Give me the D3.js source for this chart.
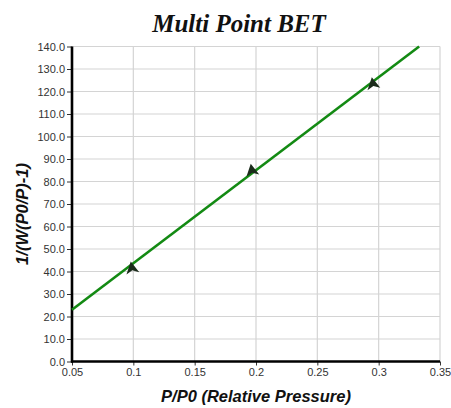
<!DOCTYPE html>
<html>
<head>
<meta charset="utf-8">
<script src="https://cdn.jsdelivr.net/npm/d3@7"></script>
<style>
  html, body { margin: 0; padding: 0; background: #fff; }
  svg { display: block; }
</style>
</head>
<body>
<svg id="chart" width="451" height="408"></svg>
<script>
// Measured BET points: relative pressure and 1/(W(P0/P)-1)
const relPressure = [0.0989, 0.1967, 0.2954];
const betValues = [41.4, 84.8, 123.3];

// Least-squares fit line endpoints (x range of drawn fit)
const fitRange = [0.05, 0.333];
const fitValues = [23.0, 140.0];

const xTicks = [0.05, 0.1, 0.15, 0.2, 0.25, 0.3, 0.35];
const xTickLabels = ["0.05", "0.1", "0.15", "0.2", "0.25", "0.3", "0.35"];
const yTicks = [0, 10, 20, 30, 40, 50, 60, 70, 80, 90, 100, 110, 120, 130, 140];

const svg = d3.select("#chart");
const margin = { left: 72, right: 11, top: 46.5, bottom: 46.5 };
const W = 451, H = 408;

const x = d3.scaleLinear().domain([0.05, 0.35]).range([margin.left, W - margin.right]);
const y = d3.scaleLinear().domain([0, 140]).range([H - margin.bottom, margin.top]);

// Grid
const grid = svg.append("g").attr("stroke", "#d4d4d4").attr("stroke-width", 1.2);
grid.selectAll("line.v").data(xTicks).join("line")
  .attr("x1", d => x(d)).attr("x2", d => x(d))
  .attr("y1", y(0)).attr("y2", y(140));
grid.selectAll("line.h").data(yTicks).join("line")
  .attr("x1", x(0.05)).attr("x2", x(0.35))
  .attr("y1", d => y(d)).attr("y2", d => y(d));

// Axes
const yAxis = d3.axisLeft(y).tickValues(yTicks).tickFormat(d3.format(".1f")).tickSize(5).tickPadding(2);
const xAxis = d3.axisBottom(x).tickValues(xTicks).tickFormat((d, i) => xTickLabels[i]).tickSize(4).tickPadding(3);

const gy = svg.append("g").attr("transform", `translate(${x(0.05)},0)`).call(yAxis);
const gx = svg.append("g").attr("transform", `translate(0,${y(0)})`).call(xAxis);

[gy, gx].forEach(g => {
  g.select(".domain").remove();
  g.selectAll(".tick line").attr("stroke", "#333").attr("stroke-width", 1);
  g.selectAll(".tick text")
    .attr("fill", "#333")
    .style("font-family", "'Liberation Sans', Arial, sans-serif")
    .style("font-size", "11px");
});

// Thick axis lines
svg.append("line")
  .attr("x1", x(0.05)).attr("x2", x(0.05))
  .attr("y1", y(140)).attr("y2", y(0) + 1)
  .attr("stroke", "#000").attr("stroke-width", 2.6);
svg.append("line")
  .attr("x1", x(0.05) - 1).attr("x2", x(0.35))
  .attr("y1", y(0)).attr("y2", y(0))
  .attr("stroke", "#000").attr("stroke-width", 2.6);

// Fit line
svg.append("line")
  .attr("x1", x(fitRange[0])).attr("y1", y(fitValues[0]))
  .attr("x2", x(fitRange[1])).attr("y2", y(fitValues[1]))
  .attr("stroke", "#138a13").attr("stroke-width", 2.6);

// Data markers (arrowhead shape)
const marker = "M0,-7 L6.5,5 L0,2 L-6.5,5 Z";
svg.append("g").selectAll("path").data(relPressure).join("path")
  .attr("d", marker)
  .attr("transform", (d, i) => `translate(${x(d)},${y(betValues[i])}) rotate(-10)`)
  .attr("fill", "#1b2b1b");

// Title
svg.append("text")
  .attr("x", 239).attr("y", 32)
  .attr("text-anchor", "middle")
  .style("font-family", "'Liberation Serif', 'Times New Roman', serif")
  .style("font-weight", "bold").style("font-style", "italic")
  .style("font-size", "25px")
  .attr("fill", "#111")
  .text("Multi Point BET");

// Axis titles
svg.append("text")
  .attr("x", (x(0.05) + x(0.35)) / 2).attr("y", 402)
  .attr("text-anchor", "middle")
  .style("font-family", "'Liberation Sans', Arial, sans-serif")
  .style("font-weight", "bold").style("font-style", "italic")
  .style("font-size", "16.5px")
  .attr("fill", "#111")
  .text("P/P0 (Relative Pressure)");

svg.append("text")
  .attr("transform", "translate(28,214) rotate(-90)")
  .attr("text-anchor", "middle")
  .style("font-family", "'Liberation Sans', Arial, sans-serif")
  .style("font-weight", "bold").style("font-style", "italic")
  .style("font-size", "16.5px")
  .attr("fill", "#111")
  .text("1/(W(P0/P)-1)");
</script>
</body>
</html>
